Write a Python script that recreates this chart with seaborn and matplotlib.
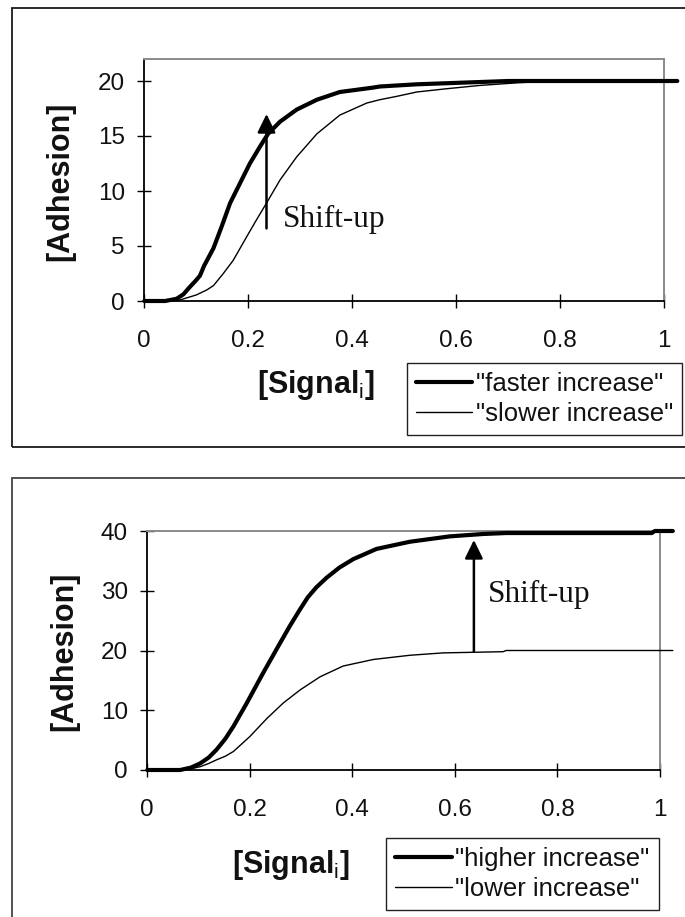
import matplotlib
matplotlib.use("Agg")
import matplotlib.pyplot as plt
import matplotlib.patches as mpatches
import seaborn as sns
import pandas as pd

sns.set_theme(style="white")
plt.rcParams["font.family"] = ["Liberation Sans", "DejaVu Sans"]
plt.rcParams["mathtext.fontset"] = "custom"
plt.rcParams["mathtext.rm"] = "Liberation Sans"
plt.rcParams["mathtext.bf"] = "Liberation Sans:bold"

# ---------------- data ----------------
x_ticks = [0, 0.2, 0.4, 0.6, 0.8, 1]
x_tick_labels = ["0", "0.2", "0.4", "0.6", "0.8", "1"]
top_y_ticks = [0, 5, 10, 15, 20]
bot_y_ticks = [0, 10, 20, 30, 40]

faster_x = [0, 0.04, 0.062, 0.075, 0.088, 0.098, 0.107, 0.115, 0.124, 0.133, 0.149, 0.165, 0.184,
            0.203, 0.222, 0.238, 0.261, 0.293, 0.332, 0.376, 0.44, 0.453, 0.524, 0.70, 1.025]
faster_y = [0, 0, 0.2, 0.6, 1.3, 1.8, 2.3, 3.2, 4.0, 4.8, 6.8, 8.9, 10.7,
            12.5, 14.0, 15.2, 16.3, 17.4, 18.3, 19.0, 19.4, 19.5, 19.7, 20.0, 20.0]

slower_x = [0, 0.05, 0.069, 0.10, 0.12, 0.133, 0.152, 0.171, 0.197, 0.216, 0.235, 0.261,
            0.293, 0.332, 0.376, 0.428, 0.453, 0.485, 0.524, 0.582, 0.646, 0.722, 0.80, 1.025]
slower_y = [0, 0, 0.1, 0.55, 1.0, 1.4, 2.5, 3.7, 5.85, 7.4, 8.9, 11.0,
            13.1, 15.2, 16.9, 18.0, 18.3, 18.6, 19.0, 19.3, 19.6, 19.85, 20.0, 20.0]

higher_x = [0, 0.064, 0.085, 0.103, 0.12, 0.135, 0.152, 0.168, 0.194, 0.226, 0.252, 0.278, 0.298,
            0.313, 0.33, 0.35, 0.375, 0.402, 0.447, 0.512, 0.590, 0.655, 0.70, 0.984, 0.99, 1.025]
higher_y = [0, 0, 0.4, 1.1, 2.1, 3.4, 5.2, 7.3, 11.2, 16.25, 20.2, 24.1, 26.9,
            28.9, 30.6, 32.2, 33.9, 35.3, 37.0, 38.2, 39.1, 39.5, 39.66, 39.66, 40.0, 40.0]

lower_x = [0, 0.064, 0.085, 0.103, 0.12, 0.135, 0.152, 0.168, 0.2, 0.233, 0.265, 0.298, 0.337,
           0.382, 0.441, 0.512, 0.577, 0.694, 0.70, 1.025]
lower_y = [0, 0, 0.2, 0.55, 1.1, 1.7, 2.3, 3.1, 5.6, 8.6, 11.2, 13.4, 15.6,
           17.4, 18.5, 19.2, 19.6, 19.8, 20.0, 20.0]

top_labels = ['"faster increase"', '"slower increase"']
bot_labels = ['"higher increase"', '"lower increase"']
annot_text = "Shift-up"
ylabel_text = "[Adhesion]"
xlabel_text = r"$\mathbf{[Signal}_{\mathrm{i}}\mathbf{]}$"

# arrows (data coords)
top_arrow = dict(x=0.235, y0=6.6, y1=17.0)
bot_arrow = dict(x=0.637, y0=19.8, y1=38.5)

# ---------------- figure ----------------
W, H = 685, 917
fig = plt.figure(figsize=(W / 100, H / 100), dpi=100)
fig.patch.set_facecolor("white")

def fx(px):
    return px / W

def fy(py):
    return (H - py) / H

# outer frames
fig.patches.append(mpatches.Rectangle((fx(12), fy(447)), fx(700) - fx(12), fy(8) - fy(447),
                                      transform=fig.transFigure, fill=False,
                                      edgecolor="#1a1a1a", linewidth=1.3))
fig.patches.append(mpatches.Rectangle((fx(12), fy(940)), fx(700) - fx(12), fy(478) - fy(940),
                                      transform=fig.transFigure, fill=False,
                                      edgecolor="#444444", linewidth=1.3))

ax1 = fig.add_axes([fx(144.3), fy(301), (664.3 - 144.3) / W, (301 - 59) / H])
ax2 = fig.add_axes([fx(147.3), fy(770), (660 - 147.3) / W, (770 - 531) / H])

TICK_FS = 17.5
LEG_FS = 18.5
LAB_FS = 22
ANN_FS = 22.5


def style_axes(ax, ylim, yticks):
    ax.set_facecolor("white")
    ax.set_xlim(0, 1)
    ax.set_ylim(*ylim)
    ax.set_xticks(x_ticks)
    ax.set_xticklabels(x_tick_labels)
    ax.set_yticks(yticks)
    for s in ["top", "right"]:
        ax.spines[s].set_color("#8a8a8a")
        ax.spines[s].set_linewidth(1.4)
    for s in ["left", "bottom"]:
        ax.spines[s].set_color("black")
        ax.spines[s].set_linewidth(1.3)
    ax.tick_params(axis="both", direction="inout", length=10, width=1.0,
                   color="black", labelsize=TICK_FS, labelcolor="#111111",
                   bottom=True, left=True)
    ax.tick_params(axis="x", pad=16)
    ax.tick_params(axis="y", pad=9)
    ax.grid(False)


def draw_panel(ax, xa, ya, xb, yb, labels):
    df_a = pd.DataFrame({"x": xa, "y": ya})
    df_b = pd.DataFrame({"x": xb, "y": yb})
    sns.lineplot(data=df_a, x="x", y="y", ax=ax, color="black", linewidth=3.0,
                 estimator=None, sort=False, label=labels[0], clip_on=False, zorder=4)
    sns.lineplot(data=df_b, x="x", y="y", ax=ax, color="black", linewidth=1.0,
                 estimator=None, sort=False, label=labels[1], clip_on=False, zorder=3)


# ---- top panel ----
draw_panel(ax1, faster_x, faster_y, slower_x, slower_y, top_labels)
style_axes(ax1, (0, 22), top_y_ticks)
ax1.annotate("", xy=(top_arrow["x"], top_arrow["y1"]), xytext=(top_arrow["x"], top_arrow["y0"]),
             arrowprops=dict(arrowstyle="-|>,head_length=0.45,head_width=0.22",
                             color="black", lw=1.8, mutation_scale=25,
                             shrinkA=0, shrinkB=0), zorder=5)
ax1.text(0.267, 6.73, annot_text, ha="left", va="baseline",
         fontsize=ANN_FS, family=["Liberation Serif", "DejaVu Serif"], color="#111111")

# ---- bottom panel ----
draw_panel(ax2, higher_x, higher_y, lower_x, lower_y, bot_labels)
style_axes(ax2, (0, 40), bot_y_ticks)
ax2.annotate("", xy=(bot_arrow["x"], bot_arrow["y1"]), xytext=(bot_arrow["x"], bot_arrow["y0"]),
             arrowprops=dict(arrowstyle="-|>,head_length=0.45,head_width=0.22",
                             color="black", lw=1.8, mutation_scale=25,
                             shrinkA=0, shrinkB=0), zorder=5)
ax2.text(0.665, 28.07, annot_text, ha="left", va="baseline",
         fontsize=ANN_FS, family=["Liberation Serif", "DejaVu Serif"], color="#111111")

# axis labels
for ax, lx, ly in [(ax1, 60, 181), (ax2, 64, 651)]:
    ax.set_ylabel("")
    ax.set_xlabel("")
    fig.text(fx(lx), fy(ly), ylabel_text, rotation=90, ha="center", va="center",
             fontsize=LAB_FS, fontweight="bold", color="#111111")
for sx, sy in [(316, 385), (291, 865)]:
    fig.text(fx(sx), fy(sy), xlabel_text, ha="center", va="center",
             fontsize=LAB_FS, color="#111111")

# legends
for ax, (lx, ly) in [(ax1, (406.7, 363)), (ax2, (386, 838))]:
    leg = ax.legend(loc="upper left", bbox_to_anchor=(fx(lx), fy(ly)),
                    bbox_transform=fig.transFigure, borderaxespad=0,
                    fontsize=LEG_FS, frameon=True, fancybox=False, shadow=False,
                    handlelength=2.2, handletextpad=0.15, labelspacing=0.25,
                    borderpad=0.35, framealpha=1)
    leg.get_frame().set_edgecolor("#222222")
    leg.get_frame().set_linewidth(1.0)
    for t in leg.get_texts():
        t.set_color("#111111")

fig.savefig("out.png", dpi=100, facecolor="white")
